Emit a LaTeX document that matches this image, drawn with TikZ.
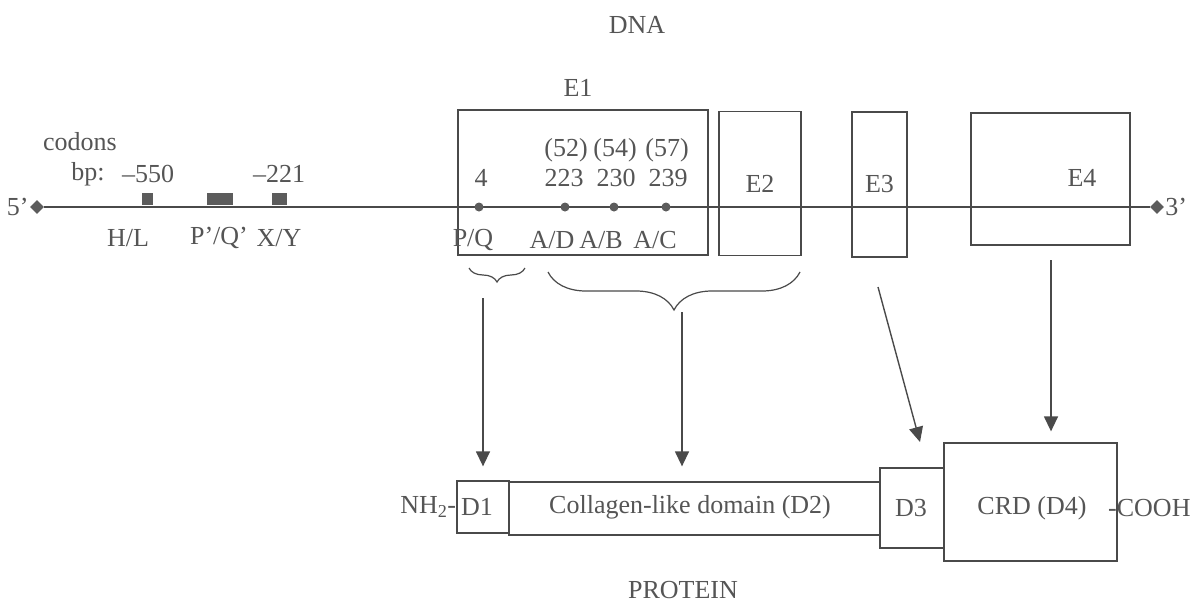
\documentclass[tikz,border=0pt]{standalone}
\usepackage{fontspec}
\setmainfont{Liberation Serif}
\usepackage{xcolor}
\usetikzlibrary{arrows.meta,positioning,calc,shapes.geometric,decorations.pathreplacing}
\definecolor{Ink}{HTML}{4A4A4A}
\definecolor{Lbl}{HTML}{555555}
\definecolor{Mark}{HTML}{5C5C5C}
\newcommand{\site}[4]{
  \node[sitebox, minimum width=#3pt] (#4) at (#1,#2) {};
}
\newcommand{\codon}[2]{
  \fill[Mark] (#1,207) circle (4.5);
  \coordinate (#2) at (#1,207);
}
\begin{document}
\begin{tikzpicture}[x=1pt, y=-1pt,
    every node/.style={text=Lbl, font=\fontsize{26}{28}\selectfont},
    exonbox/.style={draw=Ink, line width=1.3pt, inner sep=0},
    sitebox/.style={fill=Mark, minimum height=12pt, inner sep=0},
    endmark/.style={diamond, fill=Mark, minimum size=14pt, inner sep=0},
    arr/.style={draw=Ink, line width=1.4pt, -{Triangle[width=14pt,length=15pt]}},
    curly/.style={draw=Ink, line width=1.2pt, decorate, decoration={brace, mirror, amplitude=#1}}]
    \useasboundingbox (0,0) rectangle (1193,603);
    \node (dna) at (637,25) {DNA};
    \node[exonbox, minimum width=250pt, minimum height=145pt] (e1) at (583,182.5) {};
    \node[exonbox, minimum width=82pt, minimum height=144pt] (e2) at (760,183.5) {E2};
    \node[exonbox, minimum width=55pt, minimum height=145pt] (e3) at (879.5,184.5) {E3};
    \node[exonbox, minimum width=159pt, minimum height=132pt] (e4) at (1050.5,179) {};
    \node (e1lbl) at (578,88) {E1};
    \node (e4lbl) at (1082,178) {E4};
    \node[endmark] (five) at (37,207) {};
    \node[endmark] (three) at (1157,207) {};
    \node[anchor=east, inner sep=1pt] at (five.west) {5'};
    \node[anchor=west, inner sep=1pt] at (three.east) {3'};
    \draw[Ink, line width=1.4pt] (five) -- (three);
    \site{147.5}{199}{11}{hl}
    \site{220}{199}{26}{pq}
    \site{279.5}{199}{15}{xy}
    \node (codons) at (80,142) {codons};
    \node (bp) at (88,174) {bp:};
    \node at (148,174) {–550};
    \node at (279,174) {–221};
    \node at (128,238) {H/L};
    \node at (219,238) {P'/Q'};
    \node at (279,238) {X/Y};
    \codon{479}{c4}
    \codon{565}{c223}
    \codon{614}{c230}
    \codon{666}{c239}
    \node at (481,178) {4};
    \node at (564,178) {223};
    \node at (616,178) {230};
    \node at (668,178) {239};
    \node at (566,150) {(52)};
    \node at (615,150) {(54)};
    \node at (667,150) {(57)};
    \node at (473,240) {P/Q};
    \node at (552,240) {A/D};
    \node at (601,240) {A/B};
    \node at (655,240) {A/C};
    \draw[curly=14pt] (469,268) -- (525,268);
    \draw[curly=38pt] (548,272) -- (800,272);
    \node[exonbox, minimum width=52pt, minimum height=52pt] (d1) at (483,507) {};
    \node[exonbox, minimum width=371pt, minimum height=53pt] (d2) at (694.5,508.5) {};
    \node[exonbox, minimum width=64pt, minimum height=80pt] (d3) at (912,508) {};
    \node[exonbox, minimum width=173pt, minimum height=118pt] (crd) at (1030.5,502) {};
    \node at (477,507) {D1};
    \node at (690,507) {Collagen-like domain (D2)};
    \node at (911,508) {D3};
    \node at (1032,508) {CRD (D4)};
    \node[anchor=east, inner sep=0] (nh) at (d1.west) {NH\textsubscript{2}-};
    \node[anchor=west, inner sep=0] (cooh) at (1108,508) {-COOH};
    \node (protein) at (683,590) {PROTEIN};
    \coordinate (pqfrom) at (483,298);
    \coordinate (adfrom) at (682,312);
    \coordinate (e3from) at (878,287);
    \coordinate (e3to) at (920,442);
    \coordinate (e4from) at (1051,260);
    \draw[arr, shorten >=14pt] (pqfrom) -- (d1.north);
    \draw[arr, shorten >=15pt] (adfrom) -- (adfrom |- d2.north);
    \draw[arr] (e3from) -- (e3to);
    \draw[arr, shorten >=11pt] (e4from) -- (e4from |- crd.north);
  \end{tikzpicture}
\end{document}
